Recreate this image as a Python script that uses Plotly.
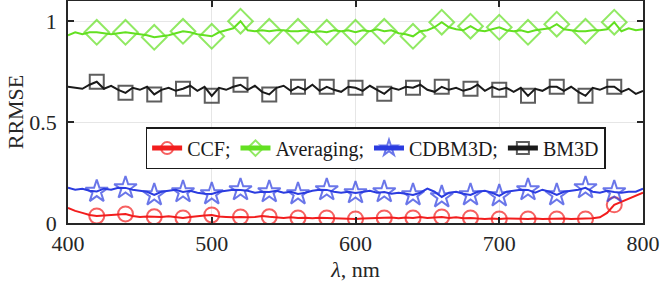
import plotly.graph_objects as go

wavelength = list(range(400, 801, 5))

ccf = [0.075, 0.06, 0.05, 0.04, 0.035, 0.038, 0.04, 0.042, 0.045, 0.035,
       0.03, 0.032, 0.031, 0.03, 0.033, 0.028, 0.025, 0.03, 0.035, 0.037,
       0.04, 0.032, 0.03, 0.028, 0.03, 0.028, 0.03, 0.035, 0.031, 0.027,
       0.025, 0.028, 0.025, 0.026, 0.024, 0.026, 0.025, 0.022, 0.024, 0.022,
       0.02, 0.022, 0.024, 0.025, 0.025, 0.027, 0.023, 0.027, 0.025, 0.03,
       0.025, 0.026, 0.03, 0.025, 0.028, 0.024, 0.025, 0.022, 0.02, 0.022,
       0.02, 0.022, 0.02, 0.021, 0.02, 0.022, 0.02, 0.021, 0.02, 0.022,
       0.02, 0.021, 0.02, 0.023, 0.028, 0.05, 0.09, 0.105, 0.12, 0.135, 0.15]

averaging = [0.93, 0.945, 0.935, 0.945, 0.945, 0.94, 0.935, 0.94, 0.945, 0.94,
             0.935, 0.93, 0.92, 0.925, 0.93, 0.94, 0.95, 0.945, 0.935, 0.93,
             0.925, 0.945, 0.955, 0.965, 1.0, 0.955, 0.95, 0.955, 0.95, 0.955,
             0.955, 0.95, 0.95, 0.955, 0.945, 0.95, 0.945, 0.955, 0.95, 0.955,
             0.945, 0.955, 0.95, 0.96, 0.95, 0.955, 0.94, 0.935, 0.925, 0.95,
             0.955, 0.97, 0.995, 0.97, 0.96, 0.955, 0.975, 0.955, 0.95, 0.96,
             0.97, 0.955, 0.95, 0.955, 0.945, 0.955, 0.96, 0.965, 0.985, 0.96,
             0.955, 0.95, 0.95, 0.955, 0.955, 0.96, 0.995, 0.95, 0.965, 0.955, 0.96]

cdbm3d = [0.175, 0.165, 0.17, 0.16, 0.156, 0.17, 0.165, 0.175, 0.174, 0.165,
          0.16, 0.155, 0.139, 0.155, 0.16, 0.165, 0.154, 0.16, 0.15, 0.145,
          0.144, 0.155, 0.16, 0.165, 0.164, 0.16, 0.15, 0.155, 0.154, 0.16,
          0.15, 0.155, 0.144, 0.15, 0.16, 0.165, 0.164, 0.155, 0.15, 0.155,
          0.149, 0.155, 0.16, 0.15, 0.154, 0.145, 0.15, 0.145, 0.139, 0.15,
          0.17, 0.155, 0.129, 0.15, 0.155, 0.145, 0.139, 0.155, 0.16, 0.15,
          0.134, 0.155, 0.16, 0.165, 0.164, 0.15, 0.165, 0.155, 0.139, 0.155,
          0.16, 0.165, 0.174, 0.155, 0.15, 0.16, 0.154, 0.15, 0.155, 0.155, 0.17]

bm3d = [0.675, 0.67, 0.665, 0.685, 0.70, 0.665, 0.68, 0.66, 0.645, 0.67,
        0.66, 0.675, 0.637, 0.66, 0.67, 0.655, 0.665, 0.68, 0.655, 0.675,
        0.63, 0.67, 0.66, 0.675, 0.685, 0.66, 0.68, 0.65, 0.637, 0.67,
        0.68, 0.655, 0.675, 0.66, 0.685, 0.655, 0.675, 0.66, 0.65, 0.675,
        0.67, 0.655, 0.68, 0.66, 0.64, 0.67, 0.66, 0.675, 0.67, 0.685,
        0.66, 0.65, 0.675, 0.66, 0.67, 0.655, 0.665, 0.685, 0.655, 0.675,
        0.66, 0.67, 0.65, 0.67, 0.63, 0.665, 0.655, 0.675, 0.675, 0.655,
        0.675, 0.65, 0.63, 0.67, 0.66, 0.675, 0.675, 0.65, 0.665, 0.64, 0.655]

series_names = ["CCF;", "Averaging;", "CDBM3D;", "BM3D"]
x_ticks = [400, 500, 600, 700, 800]
y_ticks = [0, 0.5, 1]
y_tick_labels = ["0", "0.5", "1"]

FONT = "Liberation Serif, Times New Roman, serif"

styles = [
    (ccf, "#f21d1d", "circle-open", 15),
    (averaging, "#63e021", "diamond-open", 19),
    (cdbm3d, "#2b3ce0", "star-open", 17),
    (bm3d, "#1a1a1a", "square-open", 14),
]

# markers every 20 nm from 420 to 780
marker_mask = [(w % 20 == 0) and 420 <= w <= 780 for w in wavelength]

fig = go.Figure()
for name, (vals, color, symbol, msize) in zip(series_names, styles):
    sizes = [msize if m else 0 for m in marker_mask]
    fig.add_trace(go.Scatter(
        x=wavelength, y=vals, name=name, mode="lines+markers",
        line=dict(color=color, width=2),
        marker=dict(symbol=symbol, size=sizes, color=color,
                    line=dict(color=color, width=2)),
    ))

axis_common = dict(
    showline=True, linecolor="#262626", linewidth=1.5, mirror="ticks",
    ticks="inside", ticklen=6, tickwidth=1.5, tickcolor="#262626",
    showgrid=True, gridcolor="#e6e6e6", gridwidth=1, zeroline=False,
    tickfont=dict(family=FONT, size=22, color="#262626"),
)

fig.update_xaxes(range=[400, 800], tickvals=x_ticks,
                 title=dict(text="<i>λ</i>, nm", font=dict(family=FONT, size=22, color="#262626"), standoff=6),
                 **axis_common)
fig.update_yaxes(range=[0, 1.1], tickvals=y_ticks, ticktext=y_tick_labels,
                 ticklabelstandoff=5,
                 title=dict(text="RRMSE", font=dict(family=FONT, size=22, color="#262626"), standoff=0),
                 **axis_common)

fig.update_layout(
    width=664, height=291,
    margin=dict(l=68, r=21, t=1, b=68, autoexpand=False),
    paper_bgcolor="white", plot_bgcolor="white",
    showlegend=True,
    legend=dict(orientation="h", x=0.135, y=0.432, xanchor="left", yanchor="top",
                bgcolor="white", bordercolor="#1a1a1a", borderwidth=1.5,
                font=dict(family=FONT, size=20, color="#1a1a1a"),
                itemsizing="constant", itemwidth=30, tracegroupgap=0),
)

fig.write_html("out.html", config={"displayModeBar": False},
               post_script="document.body.style.margin='0';")
